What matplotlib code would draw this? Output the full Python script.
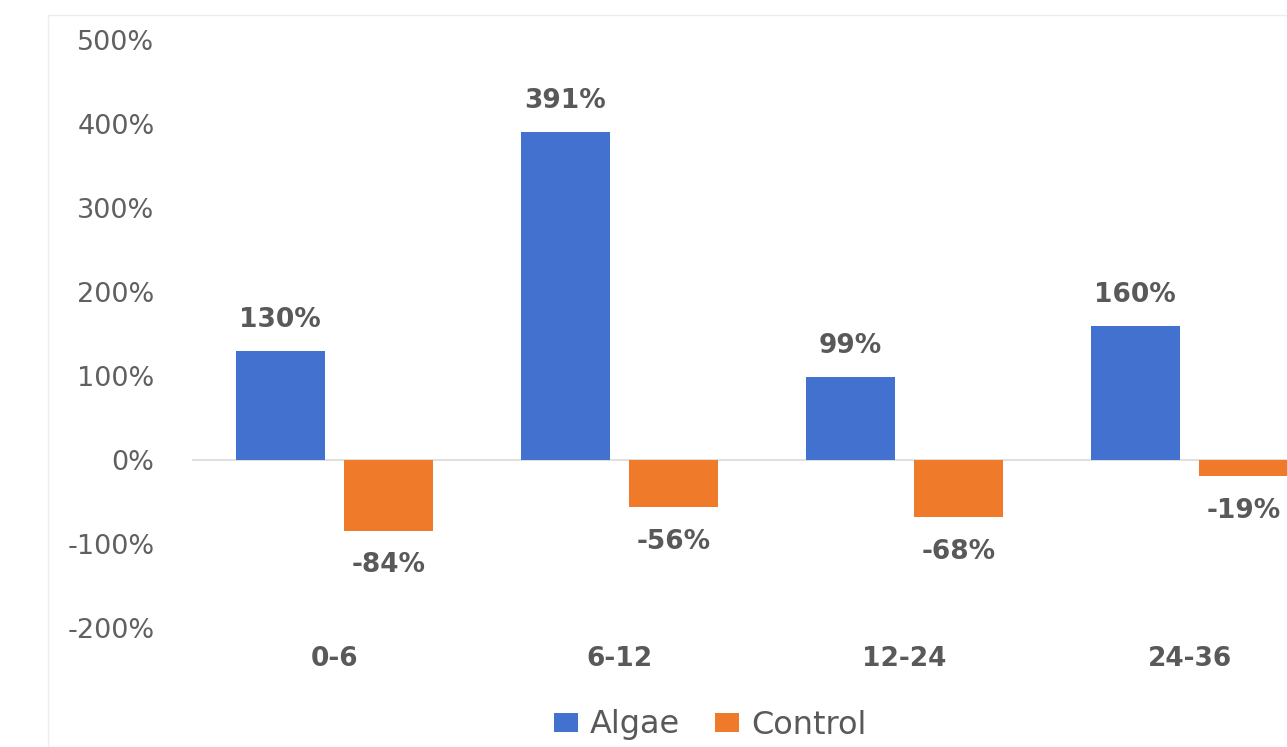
import numpy as np
import matplotlib.pyplot as plt
from matplotlib.patches import Rectangle

categories = ['0-6', '6-12', '12-24', '24-36']
algae = [130, 391, 99, 160]
control = [-84, -56, -68, -19]
y_ticks = [-200, -100, 0, 100, 200, 300, 400, 500]

plt.rcParams['font.family'] = ['DejaVu Sans']
text_color = '#595959'
blue = '#4371D0'
orange = '#EF7B2A'

fig = plt.figure(figsize=(12.87, 7.47), dpi=100)
# plot area runs past the right edge, as in the cropped reference
ax = fig.add_axes([192 / 1287, 1 - 628 / 747, 1140 / 1287, 588 / 747])

x = np.arange(len(categories))
w = 0.31
off = 0.19
ax.bar(x - off, algae, w, color=blue, label='Algae', zorder=2)
ax.bar(x + off, control, w, color=orange, label='Control', zorder=2)

for xi, v in zip(x - off, algae):
    ax.annotate(f'{v}%', (xi, v), xytext=(0, 22), textcoords='offset points',
                ha='center', va='center', fontsize=19, fontweight='bold', color=text_color)
for xi, v in zip(x + off, control):
    ax.annotate(f'{v}%', (xi, v), xytext=(0, -25), textcoords='offset points',
                ha='center', va='center', fontsize=19, fontweight='bold', color=text_color)

ax.axhline(0, color='#D9D9D9', lw=1.2, zorder=1)
ax.set_xlim(-0.5, len(categories) - 0.5)
ax.set_ylim(-200, 500)
ax.set_yticks(y_ticks)
ax.set_yticklabels([f'{t}%' for t in y_ticks], fontsize=19.5, color='#606060')
ax.set_xticks(x)
ax.set_xticklabels(categories, fontsize=19, fontweight='bold', color=text_color)
ax.tick_params(axis='y', length=0, pad=27)
ax.tick_params(axis='x', length=0, pad=13)
for s in ax.spines.values():
    s.set_visible(False)

fig.legend(loc='center', bbox_to_anchor=(710 / 1287, 1 - 725 / 747), ncol=2, frameon=False,
           fontsize=23, labelcolor=text_color, handlelength=0.75, handleheight=0.55,
           handletextpad=0.37, columnspacing=1.1)

# faint chart border
fig.patches.append(Rectangle((48 / 1287, 0.0), 1.0, 1 - 15 / 747, transform=fig.transFigure,
                             fill=False, edgecolor='#EDEDED', lw=1))

fig.savefig('out.png', dpi=100)
